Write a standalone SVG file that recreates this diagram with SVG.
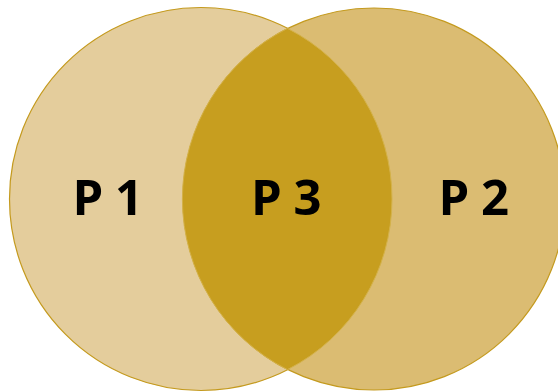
<svg xmlns="http://www.w3.org/2000/svg" width="558" height="392" viewBox="0 0 558 392">
<style>
.lbl{font-family:"Open Sans","Liberation Sans",sans-serif;font-weight:bold;font-size:49px;letter-spacing:-0.5px;fill:#000;text-anchor:middle}
.ring{stroke:#C49A1E;stroke-width:1.2}
</style>
<rect width="558" height="392" fill="#fff"/>
<g id="p1"><circle class="ring" cx="201" cy="199" r="191.5" fill="#E4CD9C"/></g>
<g id="p2"><circle class="ring" cx="374" cy="199" r="191" fill="#DBBC72"/></g>
<g id="p3"><path d="M287.5 28.4 A191.5 191.5 0 0 1 287.5 369.6 A191 191 0 0 1 287.5 28.4 Z" fill="#C79E1F" stroke="#D4B24A" stroke-width="1"/></g>
<text class="lbl" x="107.5" y="215">P 1</text>
<text class="lbl" x="286" y="215">P 3</text>
<text class="lbl" x="473.5" y="215">P 2</text>
</svg>
